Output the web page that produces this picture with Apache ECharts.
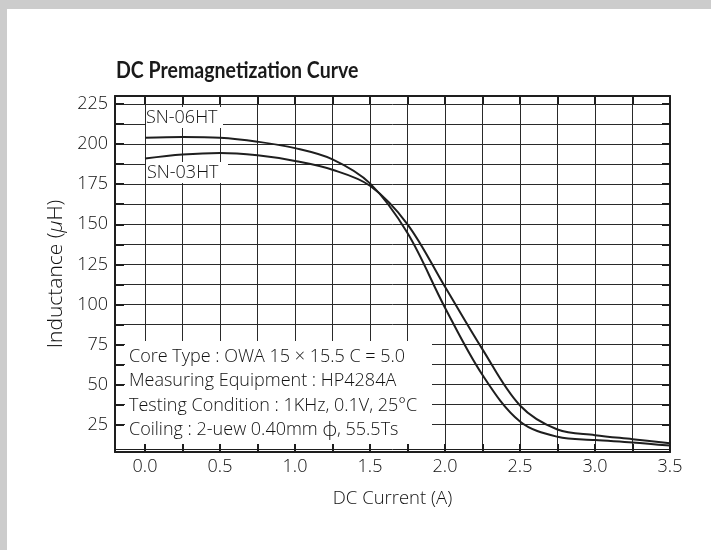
<!DOCTYPE html>
<html>
<head>
<meta charset="utf-8">
<script src="https://cdn.jsdelivr.net/npm/echarts@6/dist/echarts.min.js"></script>
<style>
  html, body { margin: 0; padding: 0; background: #fff; }
  #chart { width: 711px; height: 550px; }
</style>
</head>
<body>
<div id="chart"></div>
<script>
// DC current (A) at which inductance was read
const currents = [0, 0.25, 0.5, 0.75, 1.0, 1.25, 1.5, 1.75, 2.0, 2.25, 2.5, 2.75, 3.0, 3.25, 3.5];
// Inductance (uH) for each core
const sn06ht = [204, 204.5, 204, 201.5, 197.5, 190.5, 175.5, 144.5, 98, 56, 27, 17.5, 15.5, 14, 12];
const sn03ht = [191, 193.5, 194.5, 193, 189.5, 184, 174, 150, 111, 72, 37, 22, 18.5, 16, 13.5];

// Axis ticks / labels
const xTickValues = [0, 0.25, 0.5, 0.75, 1.0, 1.25, 1.5, 1.75, 2.0, 2.25, 2.5, 2.75, 3.0, 3.25, 3.5];
const xLabelValues = [0, 0.5, 1.0, 1.5, 2.0, 2.5, 3.0, 3.5];
const yTickValues = [25, 37.5, 50, 62.5, 75, 87.5, 100, 112.5, 125, 137.5, 150, 162.5, 175, 187.5, 200, 212.5, 225];
const yLabelValues = [25, 50, 75, 100, 125, 150, 175, 200, 225];

const chartTitle = 'DC Premagnetization Curve';
const seriesNames = ['SN-06HT', 'SN-03HT'];
const noteLines = [
  'Core Type : OWA 15 \u00d7 15.5 C = 5.0',
  'Measuring Equipment : HP4284A',
  'Testing Condition : 1KHz, 0.1V, 25\u00b0C',
  'Coiling : 2-uew 0.40mm {p|\u03d5}, 55.5Ts'
];

const TITLE_FONT = 'Lato, "Open Sans", sans-serif';
const FONT = '"Open Sans", Lato, sans-serif';
const INK = '#1e1e1e';
const TEXT = '#111';

const chart = echarts.init(document.getElementById('chart'));

function frameAxis(extra) {
  return Object.assign({
    type: 'value',
    axisLine: { show: true, onZero: false, lineStyle: { color: INK, width: 2 } },
    axisTick: { show: true, inside: true, length: 8, lineStyle: { color: INK, width: 2 } },
    splitLine: { show: false },
    axisLabel: { show: false }
  }, extra);
}

const labelStyle = { fontFamily: FONT, fontSize: 18, fontWeight: 300, fill: TEXT, color: TEXT };
const noteStyle = Object.assign({
  verticalAlign: 'middle',
  rich: { p: { fontFamily: FONT, fontSize: 21, fontWeight: 300, fill: TEXT } }
}, labelStyle);

const option = {
  animation: false,
  backgroundColor: '#fff',
  grid: { left: 115, top: 96, width: 555, height: 356 },
  xAxis: [
    frameAxis({
      position: 'bottom', min: -0.2, max: 3.5,
      axisTick: { show: true, inside: true, length: 8, customValues: xTickValues, lineStyle: { color: INK, width: 2 } },
      axisLabel: Object.assign({ show: true, customValues: xLabelValues, margin: 6, formatter: v => v.toFixed(1) }, labelStyle),
      splitLine: { show: true, lineStyle: { color: '#2a2a2a', width: 1 } },
      name: 'DC Current (A)', nameLocation: 'middle', nameGap: 37,
      nameTextStyle: { fontFamily: FONT, fontSize: 18.5, fontWeight: 300, color: TEXT }
    }),
    frameAxis({
      position: 'top', min: -0.2, max: 3.5,
      axisTick: { show: true, inside: true, length: 8, customValues: xTickValues, lineStyle: { color: INK, width: 2 } }
    })
  ],
  yAxis: [
    frameAxis({
      position: 'left', min: 8, max: 230,
      axisTick: { show: true, inside: true, length: 9, customValues: yTickValues, lineStyle: { color: INK, width: 2 } },
      axisLabel: Object.assign({ show: true, customValues: yLabelValues, margin: 7 }, labelStyle),
      splitLine: { show: true, lineStyle: { color: '#2a2a2a', width: 1 } },
      name: 'Inductance ({i|\u03bc}H)', nameLocation: 'middle', nameGap: 48, nameRotate: 90,
      nameTextStyle: {
        fontFamily: FONT, fontSize: 21, fontWeight: 300, color: TEXT,
        rich: { i: { fontFamily: FONT, fontSize: 21, fontWeight: 300, color: TEXT, fontStyle: 'italic' } }
      }
    }),
    frameAxis({
      position: 'right', min: 8, max: 230,
      axisTick: { show: true, inside: true, length: 8, customValues: yTickValues, lineStyle: { color: INK, width: 2 } }
    })
  ],
  series: [
    {
      name: seriesNames[0], type: 'line', z: 20,
      data: currents.map((c, i) => [c, sn06ht[i]]),
      smooth: 0.35, showSymbol: false, symbol: 'none',
      lineStyle: { color: INK, width: 2 },
      markLine: {
        silent: true, symbol: ['none', 'none'], label: { show: false },
        lineStyle: { color: INK, width: 1, type: 'solid' },
        data: [{ yAxis: 10 }]
      }
    },
    {
      name: seriesNames[1], type: 'line', z: 20,
      data: currents.map((c, i) => [c, sn03ht[i]]),
      smooth: 0.35, showSymbol: false, symbol: 'none',
      lineStyle: { color: INK, width: 2 }
    }
  ],
  graphic: [
    // page frame bands
    { type: 'rect', z: 30, shape: { x: 0, y: 0, width: 711, height: 9 }, style: { fill: '#cccccc' } },
    { type: 'rect', z: 30, shape: { x: 0, y: 0, width: 7, height: 550 }, style: { fill: '#cccccc' } },
    // title, condensed
    { type: 'text', z: 10, x: 116, y: 59, scaleX: 0.85,
      style: { text: chartTitle, fontFamily: TITLE_FONT, fontSize: 23, fontWeight: 'bold', fill: '#1a1a1a', verticalAlign: 'top' } },
    // curve name tags
    { type: 'rect', z: 5, shape: { x: 146, y: 107, width: 77, height: 21 }, style: { fill: '#fff' } },
    { type: 'text', z: 6, x: 146, y: 118, style: Object.assign({ text: seriesNames[0], verticalAlign: 'middle' }, labelStyle) },
    { type: 'rect', z: 5, shape: { x: 146, y: 162, width: 82, height: 21 }, style: { fill: '#fff' } },
    { type: 'text', z: 6, x: 147, y: 172.5, style: Object.assign({ text: seriesNames[1], verticalAlign: 'middle' }, labelStyle) },
    // measurement conditions block
    { type: 'rect', z: 5, shape: { x: 125, y: 341, width: 307, height: 103 }, style: { fill: '#fff' } },
    { type: 'text', z: 6, x: 129, y: 357, style: Object.assign({ text: noteLines[0] }, noteStyle) },
    { type: 'text', z: 6, x: 129, y: 381, style: Object.assign({ text: noteLines[1] }, noteStyle) },
    { type: 'text', z: 6, x: 129, y: 405.5, style: Object.assign({ text: noteLines[2] }, noteStyle) },
    { type: 'text', z: 6, x: 129, y: 430, style: Object.assign({ text: noteLines[3] }, noteStyle) }
  ]
};

chart.setOption(option);
</script>
</body>
</html>
